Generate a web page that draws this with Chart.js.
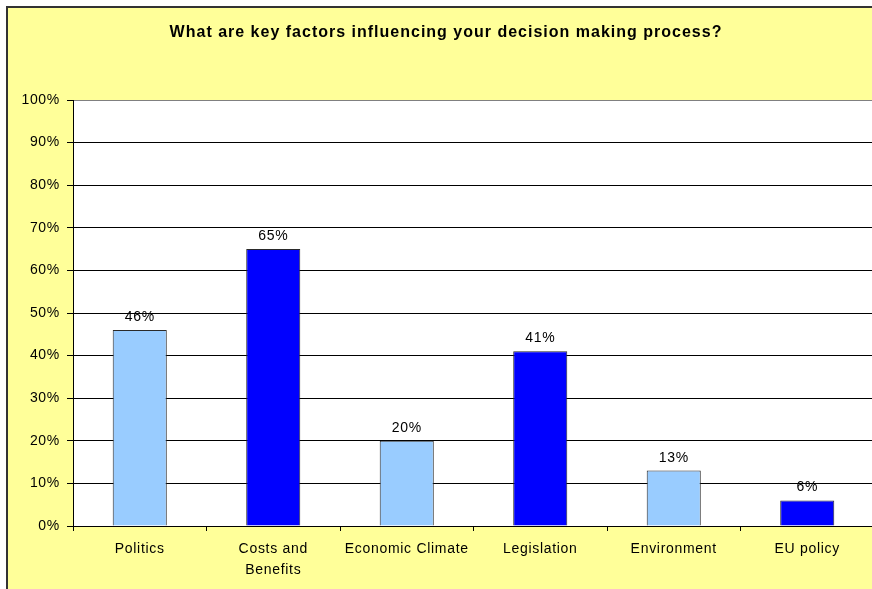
<!DOCTYPE html>
<html>
<head>
<meta charset="utf-8">
<script src="https://cdn.jsdelivr.net/npm/chart.js@4/dist/chart.umd.min.js"></script>
<style>
  html, body { margin: 0; padding: 0; background: #ffffff; overflow: hidden; }
  #wrap { width: 880px; height: 600px; }
</style>
</head>
<body>
<div id="wrap"><canvas id="c" width="880" height="600"></canvas></div>
<script>
// Survey answers: share of respondents naming each factor
const categories = ['Politics', ['Costs and', 'Benefits'], 'Economic Climate', 'Legislation', 'Environment', 'EU policy'];
const shares = [46, 65, 20, 41, 13, 6];
const barColors = ['#99CCFF', '#0000FF', '#99CCFF', '#0000FF', '#99CCFF', '#0000FF'];
const yTicks = [0, 10, 20, 30, 40, 50, 60, 70, 80, 90, 100];
const chartTitle = 'What are key factors influencing your decision making process?';

const FONT = "'Liberation Sans', Arial, sans-serif";
const TEXT_SPACING = '0.7px';

// Slightly open letter spacing for all chart text
const spacingPlugin = {
  id: 'spacing',
  beforeUpdate(chart) { chart.ctx.letterSpacing = TEXT_SPACING; },
  beforeDraw(chart) { chart.ctx.letterSpacing = TEXT_SPACING; }
};

// Yellow frame with dark border, white plot area, title
const framePlugin = {
  id: 'frame',
  beforeDraw(chart) {
    const ctx = chart.ctx;
    const { width, height } = chart;
    const a = chart.chartArea;
    ctx.save();
    ctx.fillStyle = '#ffffff';
    ctx.fillRect(0, 0, width, height);
    ctx.fillStyle = '#FFFF99';
    ctx.fillRect(7, 7, width - 7, height - 7);
    ctx.strokeStyle = '#333333';
    ctx.lineWidth = 2;
    ctx.beginPath();
    ctx.moveTo(7, height);
    ctx.lineTo(7, 7);
    ctx.lineTo(width, 7);
    ctx.stroke();
    ctx.fillStyle = '#ffffff';
    ctx.fillRect(a.left, a.top, a.right - a.left, a.bottom - a.top);
    ctx.restore();
  },
  afterDraw(chart) {
    const ctx = chart.ctx;
    ctx.save();
    ctx.font = 'bold 16px ' + FONT;
    ctx.letterSpacing = '1px';
    ctx.fillStyle = '#000000';
    ctx.textAlign = 'center';
    ctx.textBaseline = 'middle';
    ctx.fillText(chartTitle, 446, 33);
    ctx.restore();
  }
};

// Percentage label above each bar
const valueLabels = {
  id: 'valueLabels',
  afterDatasetsDraw(chart) {
    const ctx = chart.ctx;
    const meta = chart.getDatasetMeta(0);
    ctx.save();
    ctx.font = '14px ' + FONT;
    ctx.fillStyle = '#000000';
    ctx.textAlign = 'center';
    ctx.textBaseline = 'alphabetic';
    meta.data.forEach((bar, i) => {
      ctx.fillText(shares[i] + '%', bar.x, bar.y - 9);
    });
    ctx.restore();
  }
};

new Chart(document.getElementById('c'), {
  type: 'bar',
  data: {
    labels: categories,
    datasets: [{
      data: shares,
      backgroundColor: barColors,
      borderColor: '#2a2a2a',
      borderWidth: 1,
      categoryPercentage: 1,
      barPercentage: 0.405
    }]
  },
  options: {
    responsive: false,
    animation: false,
    devicePixelRatio: 1,
    layout: { padding: { left: 0, right: 6, top: 100, bottom: 0 } },
    plugins: {
      legend: { display: false },
      tooltip: { enabled: false },
      title: { display: false }
    },
    scales: {
      x: {
        offset: true,
        grid: {
          offset: true,
          drawOnChartArea: false,
          drawTicks: true,
          tickLength: 5,
          tickColor: '#000000'
        },
        border: { color: '#000000', width: 1 },
        ticks: {
          color: '#000000',
          font: { family: FONT, size: 14, lineHeight: 1.5 },
          padding: 8,
          maxRotation: 0,
          autoSkip: false
        },
        afterFit(scale) { scale.height = 74; }
      },
      y: {
        min: 0,
        max: 100,
        afterBuildTicks(scale) { scale.ticks = yTicks.map(v => ({ value: v })); },
        grid: {
          color: (c) => (c.tick && c.tick.value === 100 ? '#808080' : '#000000'),
          tickColor: '#000000',
          tickLength: 6,
          lineWidth: 1
        },
        border: { color: '#000000', width: 1 },
        ticks: {
          color: '#000000',
          font: { family: FONT, size: 14 },
          padding: 7,
          callback: (v) => v + '%'
        },
        afterFit(scale) { scale.width = 73; }
      }
    }
  },
  plugins: [spacingPlugin, framePlugin, valueLabels]
});
</script>
</body>
</html>
